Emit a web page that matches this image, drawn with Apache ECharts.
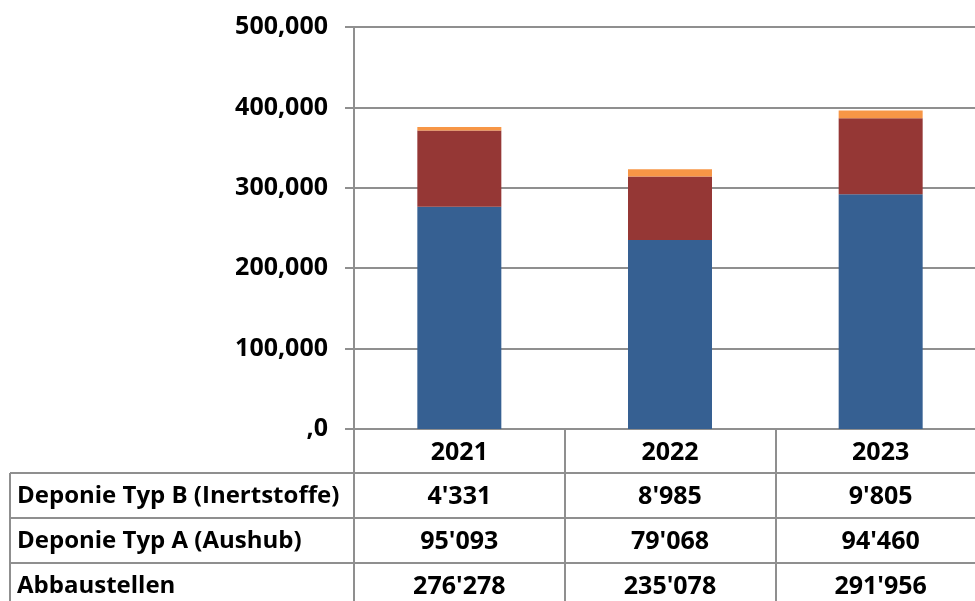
<!DOCTYPE html>
<html>
<head>
<meta charset="utf-8">
<script src="https://cdn.jsdelivr.net/npm/echarts@6/dist/echarts.min.js"></script>
<style>
  html, body { margin: 0; padding: 0; background: #fff; }
  #myChart { width: 975px; height: 601px; }
</style>
</head>
<body>
<div id="myChart"></div>
<script>
// Daten
var years = ['2021', '2022', '2023'];
var abbaustellen = [276278, 235078, 291956];
var deponieA = [95093, 79068, 94460];
var deponieB = [4331, 8985, 9805];
var seriesNames = ['Abbaustellen', 'Deponie Typ A (Aushub)', 'Deponie Typ B (Inertstoffe)'];
var yTicks = [0, 100000, 200000, 300000, 400000, 500000];

var FONT = '"Open Sans", sans-serif';
var GRAY = '#8f8f8f';

// 276278 -> 276'278
function fmt(v) {
  return String(v).replace(/\B(?=(\d{3})+(?!\d))/g, "'");
}

var myChart = echarts.init(document.getElementById('myChart'));
var option = {
  backgroundColor: '#fff',
  animation: false,
  grid: { left: 354, top: 27, width: 632, height: 402, outerBoundsMode: 'none', containLabel: false },
  xAxis: {
    type: 'category',
    data: years,
    axisLine: { lineStyle: { color: GRAY, width: 2 } },
    axisTick: { show: true, length: 180, lineStyle: { color: GRAY, width: 2 } }, // Tabellenspalten
    axisLabel: { color: '#000', fontFamily: FONT, fontWeight: 'bold', fontSize: 25, margin: 11 }
  },
  yAxis: {
    type: 'value',
    min: yTicks[0],
    max: yTicks[yTicks.length - 1],
    interval: 100000,
    axisLine: { show: true, lineStyle: { color: GRAY, width: 2 } },
    axisTick: { show: true, length: 9, lineStyle: { color: GRAY, width: 2 } },
    splitLine: { lineStyle: { color: GRAY, width: 2 } },
    axisLabel: {
      color: '#000', fontFamily: FONT, fontWeight: 'bold', fontSize: 25, margin: 26,
      formatter: function (v) { return v === 0 ? ',0' : v.toLocaleString('en-US'); }
    }
  },
  series: [
    { name: seriesNames[0], type: 'bar', stack: 'a', data: abbaustellen, barWidth: 84, itemStyle: { color: '#366092' } },
    { name: seriesNames[1], type: 'bar', stack: 'a', data: deponieA, barWidth: 84, itemStyle: { color: '#953735' } },
    { name: seriesNames[2], type: 'bar', stack: 'a', data: deponieB, barWidth: 84, itemStyle: { color: '#F79646' } }
  ]
};
myChart.setOption(option);

// Datentabelle unter dem Diagramm
var rows = [
  { label: seriesNames[2], values: deponieB },
  { label: seriesNames[1], values: deponieA },
  { label: seriesNames[0], values: abbaustellen }
];
var rowTop = 473, rowH = 45;
var elements = [];
rows.forEach(function (r, i) {
  var y = rowTop + i * rowH;
  elements.push({ type: 'line', shape: { x1: 10, y1: y, x2: 975, y2: y }, style: { stroke: GRAY, lineWidth: 2 } });
  elements.push({
    type: 'text', x: 17, y: y + rowH / 2 + 1,
    style: { text: r.label, font: 'bold 24px ' + FONT, fill: '#000', textVerticalAlign: 'middle', textAlign: 'left' }
  });
  r.values.forEach(function (v, j) {
    var cx = myChart.convertToPixel({ xAxisIndex: 0 }, j);
    elements.push({
      type: 'text', x: cx, y: y + rowH / 2 + 1,
      style: { text: fmt(v), font: 'bold 25px ' + FONT, fill: '#000', textVerticalAlign: 'middle', textAlign: 'center' }
    });
  });
});
elements.push({ type: 'line', shape: { x1: 10, y1: rowTop, x2: 10, y2: 601 }, style: { stroke: GRAY, lineWidth: 2 } });
myChart.setOption({ graphic: elements });
</script>
</body>
</html>
